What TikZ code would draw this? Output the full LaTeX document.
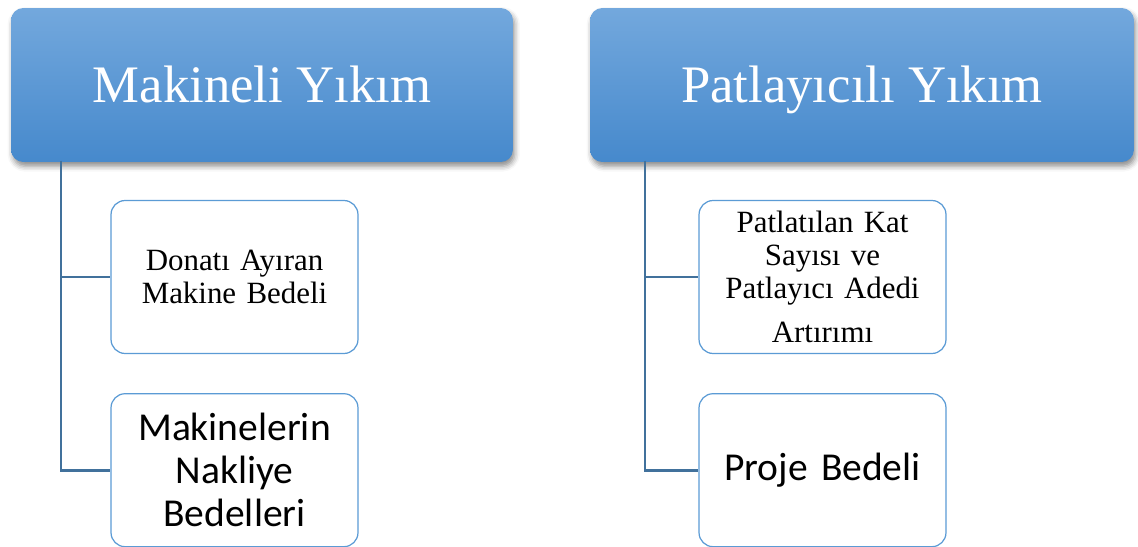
\documentclass[tikz,border=0pt]{standalone}
\usepackage{fontspec}
\setmainfont{Liberation Serif}
\newfontfamily\calibri{Carlito}
\usetikzlibrary{positioning,shadows.blur}
\definecolor{headtop}{RGB}{115,168,221}
\definecolor{headbot}{RGB}{70,137,204}
\definecolor{linkblue}{RGB}{65,113,156}
\definecolor{boxblue}{RGB}{91,155,213}
\tikzstyle{head}=[rectangle,rounded corners=7pt,top color=headtop,bottom color=headbot,draw=none,text=white,minimum height=3.08cm,text height=20pt,text depth=0pt,font=\fontsize{30}{36}\selectfont,blur shadow={shadow xshift=1pt,shadow yshift=-2.5pt,shadow blur radius=3pt,shadow opacity=45}]
\tikzstyle{item}=[rectangle,rounded corners=8pt,draw=boxblue,line width=0.7pt,fill=white,minimum width=4.94cm,minimum height=3.06cm,text width=4.5cm,align=center,font=\fontsize{17.6}{18.8}\selectfont]
\tikzstyle{link}=[draw=linkblue,line width=1.6pt]
\newcommand{\branch}[2]{\draw[link] (#1) |- (#2.west);}

\begin{document}
\begin{tikzpicture}[x=0.02cm,y=-0.02cm,node distance=0.78cm]
    \useasboundingbox (0,0) rectangle (1138,547);
    % headers
    \node[head,minimum width=10.04cm] (mak) at (262,85) {Makineli Yıkım};
    \node[head,minimum width=10.88cm] (pat) at (862,85) {Patlayıcılı Yıkım};
    
    % left column
    \node[item] (don) at (234.5,277) {Donatı Ayıran\\Makine Bedeli};
    \node[item,below=of don,font=\calibri\fontsize{22.5}{24.5}\selectfont] (nak) {Makinelerin\\Nakliye\\Bedelleri};
    
    % right column
    \node[item] (kat) at (822.5,277) {Patlatılan Kat\\Sayısı ve\\Patlayıcı Adedi\\[6.5pt]Artırımı};
    \node[item,below=of kat,font=\calibri\fontsize{22.5}{24.5}\selectfont] (pro) {Proje Bedeli};
    
    %
    \coordinate (mt) at (61,161);
    \coordinate (pt) at (645,161);
    \branch{mt}{don}
    \branch{mt}{nak}
    \branch{pt}{kat}
    \branch{pt}{pro}
\end{tikzpicture}
\end{document}
